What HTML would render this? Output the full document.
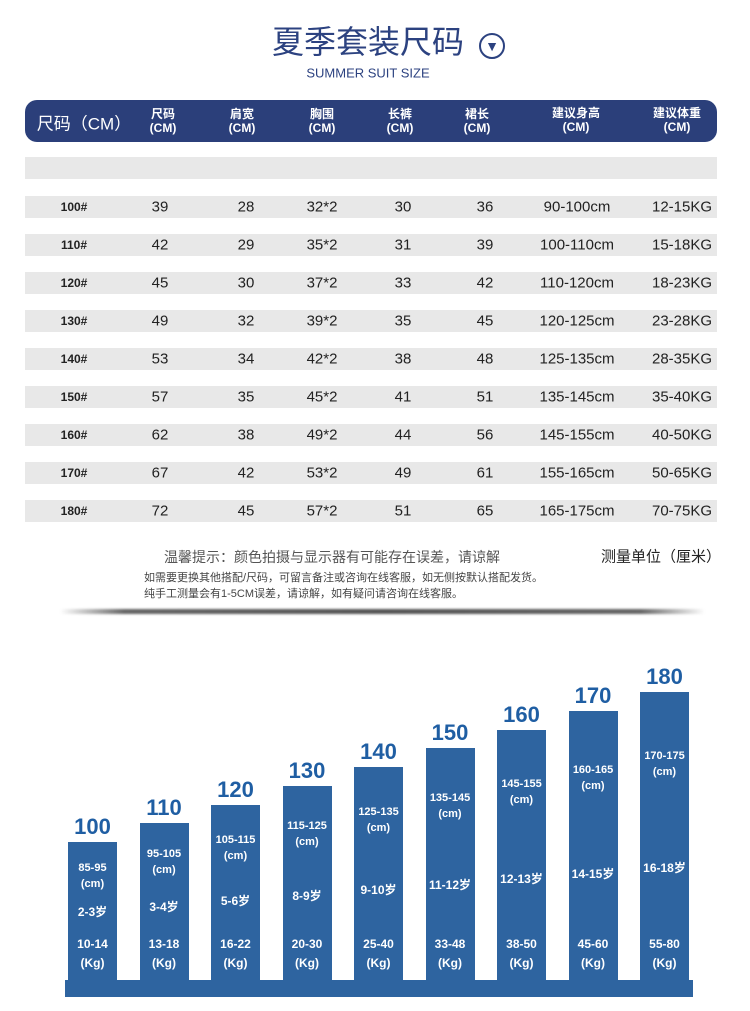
<!DOCTYPE html><html><head><meta charset="utf-8"><style>
body{margin:0;width:750px;height:1011px;background:#fff;position:relative;overflow:hidden;font-family:"Liberation Sans","Noto Sans CJK SC",sans-serif}
.a{position:absolute}
.t{position:absolute;white-space:nowrap;transform:translate(-50%,-50%)}
.row{position:absolute;left:25px;width:692px;height:22px;background:#e8e8e8}
.c{font-size:15px;color:#222}
.h{color:#fff;font-size:12px;line-height:14px;text-align:center;font-weight:bold}
.bar{position:absolute;width:49px;background:#2e64a0}
.bl{font-size:22px;color:#1f5ea3;font-weight:bold}
.bt{color:#fff;font-size:11px;font-weight:bold;text-align:center;line-height:16px}
</style></head><body>
<div class="t" style="left:368px;top:40px;font-size:32px;color:#2c4280">夏季套装尺码</div>
<div class="a" style="left:479px;top:33px;width:26px;height:26px;border:2px solid #2c4280;border-radius:50%;box-sizing:border-box;color:#2c4280;font-size:14px;text-align:center;line-height:22px">▼</div>
<div class="t" style="left:368px;top:73px;font-size:13px;color:#2c4280">SUMMER SUIT SIZE</div>
<div class="a" style="left:25px;top:100px;width:692px;height:42px;background:#2b3f7a;border-radius:12px"></div>
<div class="t" style="left:84px;top:122px;color:#fff;font-size:17px">尺码（CM）</div>
<div class="t h" style="left:163px;top:121px">尺码<br>(CM)</div>
<div class="t h" style="left:242px;top:121px">肩宽<br>(CM)</div>
<div class="t h" style="left:322px;top:121px">胸围<br>(CM)</div>
<div class="t h" style="left:400px;top:121px">长裤<br>(CM)</div>
<div class="t h" style="left:477px;top:121px">裙长<br>(CM)</div>
<div class="t h" style="left:576px;top:120px">建议身高<br>(CM)</div>
<div class="t h" style="left:677px;top:120px">建议体重<br>(CM)</div>
<div class="row" style="top:157px;height:22px"></div>
<div class="row" style="top:196px"></div><div class="row" style="top:234px"></div><div class="row" style="top:272px"></div><div class="row" style="top:310px"></div><div class="row" style="top:348px"></div><div class="row" style="top:386px"></div><div class="row" style="top:424px"></div><div class="row" style="top:462px"></div><div class="row" style="top:500px"></div>
<div id="rows"></div>
<div class="t" style="left:332px;top:557px;font-size:14px;color:#555">温馨提示：颜色拍摄与显示器有可能存在误差，请谅解</div>
<div class="t" style="left:661px;top:556px;font-size:15px;color:#222">测量单位（厘米）</div>
<div class="a" style="left:144px;top:570px;font-size:11px;color:#444;line-height:16px">如需要更换其他搭配/尺码，可留言备注或咨询在线客服，如无侧按默认搭配发货。<br>纯手工测量会有1-5CM误差，请谅解，如有疑问请咨询在线客服。</div>
<div class="a" style="left:60px;top:609px;width:645px;height:5px;background:linear-gradient(90deg,#fff,#666 10%,#555 50%,#666 90%,#fff);filter:blur(1px)"></div>
<div class="a" style="left:65px;top:980px;width:628px;height:17px;background:#2e64a0"></div>
<div id="bars"></div>
<script>
var R=[["100#",39,28,"32*2",30,36,"90-100cm","12-15KG"],["110#",42,29,"35*2",31,39,"100-110cm","15-18KG"],["120#",45,30,"37*2",33,42,"110-120cm","18-23KG"],["130#",49,32,"39*2",35,45,"120-125cm","23-28KG"],["140#",53,34,"42*2",38,48,"125-135cm","28-35KG"],["150#",57,35,"45*2",41,51,"135-145cm","35-40KG"],["160#",62,38,"49*2",44,56,"145-155cm","40-50KG"],["170#",67,42,"53*2",49,61,"155-165cm","50-65KG"],["180#",72,45,"57*2",51,65,"165-175cm","70-75KG"]];
var X=[74,160,246,322,403,485,577,682],h="";
R.forEach(function(r,i){var y=207+38*i;r.forEach(function(v,j){h+='<div class="t c" style="left:'+X[j]+'px;top:'+y+'px;'+(j==0?'font-weight:bold;font-size:12px':'')+'">'+v+'</div>'})});
document.getElementById("rows").innerHTML=h;
var B=[["100","85-95","2-3岁","10-14"],["110","95-105","3-4岁","13-18"],["120","105-115","5-6岁","16-22"],["130","115-125","8-9岁","20-30"],["140","125-135","9-10岁","25-40"],["150","135-145","11-12岁","33-48"],["160","145-155","12-13岁","38-50"],["170","160-165","14-15岁","45-60"],["180","170-175","16-18岁","55-80"]];
h="";B.forEach(function(b,i){var x=68+71.5*i,top=842-18.75*i,cx=x+24.5;
h+='<div class="bar" style="left:'+x+'px;top:'+top+'px;height:'+(981-top)+'px"></div>';
h+='<div class="t bl" style="left:'+cx+'px;top:'+(top-15)+'px">'+b[0]+'</div>';
h+='<div class="t bt" style="left:'+cx+'px;top:'+(876-14*i)+'px">'+b[1]+'<br>(cm)</div>';
h+='<div class="t bt" style="left:'+cx+'px;top:'+(912-5.5*i)+'px;font-size:12px">'+b[2]+'</div>';
h+='<div class="t bt" style="left:'+cx+'px;top:954px;line-height:19px;font-size:12px">'+b[3]+'<br>(Kg)</div>';});
document.getElementById("bars").innerHTML=h;
</script>
</body></html>
